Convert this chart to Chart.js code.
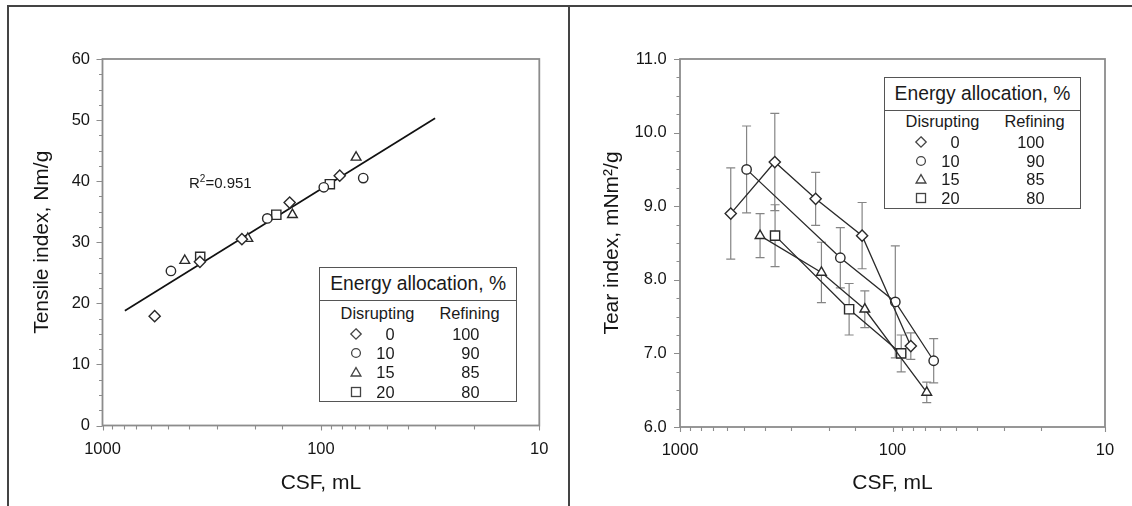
<!DOCTYPE html>
<html>
<head>
<meta charset="utf-8">
<script src="https://cdn.jsdelivr.net/npm/chart.js@4.4.1/dist/chart.umd.min.js"></script>
<style>
  html, body { margin: 0; padding: 0; background: #fff; }
  #page { position: relative; width: 1132px; height: 506px; overflow: hidden;
          font-family: "Liberation Sans", Arial, sans-serif; color: #1a1a1a; }
  canvas { position: absolute; top: 0; }
  .rule { position: absolute; background: #444; z-index: 3; }
  .legend { position: absolute; box-sizing: border-box; border: 1.5px solid #555; background: #fff; z-index: 2; }
  .legend .title { position: absolute; left: 0; right: 0; top: 0; height: 32px; line-height: 32px;
                   border-bottom: 1.5px solid #555; font-size: 19.3px; text-align: center; }
  .legend .cell { position: absolute; height: 20px; line-height: 20px; font-size: 16.4px; white-space: nowrap; }
  .legend svg { position: absolute; }
  .r2 { position: absolute; font-size: 15px; line-height: 18px; white-space: nowrap; z-index: 2; }
  .r2 sup { font-size: 10px; vertical-align: 6px; line-height: 0; }
</style>
</head>
<body>
<div id="page">
  <canvas id="tensile" width="566" height="506" style="left:0"></canvas>
  <canvas id="tear" width="566" height="506" style="left:566px"></canvas>
  <div class="rule" style="left:7px; top:5px; width:1125px; height:2px"></div>
  <div class="rule" style="left:7px; top:5px; width:2px; height:501px"></div>
  <div class="rule" style="left:568px; top:5px; width:2px; height:501px"></div>
</div>
<script>
// CSF (mL) of each sample, per energy allocation (disrupting share, %)
const csf0 = [577, 358, 230, 139, 82];
const csf10 = [486, 176, 97, 64];
const csf15 = [420, 216, 135, 69];
const csf20 = [357, 160, 91];

// tensile index, Nm/g
const tensile0 = [17.9, 26.8, 30.5, 36.5, 40.9];
const tensile10 = [25.3, 33.9, 39.0, 40.5];
const tensile15 = [27.0, 30.6, 34.5, 43.9];
const tensile20 = [27.6, 34.5, 39.5];

// fitted line ends and its R²
const fitCsf = [790, 30];
const fitTensile = [18.8, 50.3];
const r2Value = '0.951';

// tear index, mNm²/g, with error bar half-lengths
const tear0 = [8.9, 9.6, 9.1, 8.6, 7.1];
const tear10 = [9.5, 8.3, 7.7, 6.9];
const tear15 = [8.6, 8.1, 7.6, 6.47];
const tear20 = [8.6, 7.6, 7.0];
const tearErr0 = [0.62, 0.66, 0.36, 0.45, 0.18];
const tearErr10 = [0.59, 0.41, 0.76, 0.30];
const tearErr15 = [0.30, 0.41, 0.25, 0.14];
const tearErr20 = [0.42, 0.35, 0.25];

// legend
const disrupting = [0, 10, 15, 20];
const refining = [100, 90, 85, 80];

const FONT = '"Liberation Sans", Arial, sans-serif';
const INK = '#151515';
const pointStyles = ['rectRot', 'circle', 'triangle', 'rect'];
const pointSizes = [5.6, 4.7, 5.6, 6.5];

function pts(xs, ys) {
  return xs.map((x, i) => ({ x: x, y: ys[i] }));
}

function markerSet(k, xs, ys, extra) {
  return Object.assign({
    data: pts(xs, ys),
    pointStyle: pointStyles[k],
    pointRadius: pointSizes[k],
    pointBorderColor: '#2a2a2a',
    pointBackgroundColor: '#fff',
    pointBorderWidth: 1.4,
    borderColor: '#2a2a2a',
    borderWidth: 1.3,
    showLine: false,
    order: 1
  }, extra || {});
}

// plot box + outward tick marks, drawn from the chart's own scales
const boxAndTicks = {
  id: 'boxAndTicks',
  beforeDatasetsDraw(chart) {
    const { ctx, chartArea: a, scales: { x, y } } = chart;
    ctx.save();
    ctx.strokeStyle = '#8c8c8c';
    ctx.lineWidth = 1.8;
    ctx.strokeRect(a.left, a.top, a.right - a.left, a.bottom - a.top);
    ctx.lineWidth = 1.1;
    ctx.beginPath();
    x.ticks.forEach(t => {
      const px = Math.round(x.getPixelForValue(t.value)) + 0.5;
      ctx.moveTo(px, a.bottom);
      ctx.lineTo(px, a.bottom + (t.label ? 5 : 4));
    });
    y.ticks.forEach(t => {
      const py = Math.round(y.getPixelForValue(t.value)) + 0.5;
      ctx.moveTo(a.left, py);
      ctx.lineTo(a.left - (t.label ? 6 : 3.5), py);
    });
    ctx.stroke();
    ctx.restore();
  }
};

const errorBars = {
  id: 'errorBars',
  beforeDatasetsDraw(chart) {
    const { ctx, scales: { x, y } } = chart;
    ctx.save();
    ctx.strokeStyle = '#858585';
    ctx.lineWidth = 1.2;
    chart.data.datasets.forEach(ds => {
      if (!ds.errors) return;
      ds.data.forEach((p, i) => {
        const e = ds.errors[i];
        const px = x.getPixelForValue(p.x);
        const top = y.getPixelForValue(p.y + e);
        const bot = y.getPixelForValue(p.y - e);
        ctx.beginPath();
        ctx.moveTo(px, top); ctx.lineTo(px, bot);
        ctx.moveTo(px - 4.5, top); ctx.lineTo(px + 4.5, top);
        ctx.moveTo(px - 4.5, bot); ctx.lineTo(px + 4.5, bot);
        ctx.stroke();
      });
    });
    ctx.restore();
  }
};

function csfAxis(height) {
  return {
    type: 'logarithmic', min: 10, max: 1000, reverse: true,
    grid: { display: false, drawTicks: false },
    border: { display: false },
    ticks: {
      autoSkip: false, maxRotation: 0, padding: 14, color: INK,
      font: { family: FONT, size: 16.5 },
      callback: v => Math.abs(Math.log10(v) - Math.round(Math.log10(v))) < 1e-9 ? String(Math.round(v)) : ''
    },
    title: { display: true, text: 'CSF, mL', color: INK, font: { family: FONT, size: 21 }, padding: { top: 0, bottom: 10.5 } },
    afterFit: s => { s.height = height; }
  };
}

function valueAxis(opts) {
  return {
    type: 'linear', min: opts.min, max: opts.max,
    grid: { display: false, drawTicks: false },
    border: { display: false },
    ticks: {
      stepSize: opts.step, maxTicksLimit: 100, autoSkip: false, padding: opts.pad, color: INK,
      font: { family: FONT, size: 16.5 },
      callback: opts.label
    },
    title: { display: true, text: opts.title, color: INK, font: { family: FONT, size: 21 }, padding: { top: opts.titlePad, bottom: 0 } },
    afterFit: s => { s.width = opts.width; }
  };
}

function baseOptions(rightPad, xAxis, yAxis) {
  return {
    responsive: false, animation: false, devicePixelRatio: 1,
    layout: { padding: { left: 0, right: rightPad, top: 59, bottom: 0 } },
    plugins: { legend: { display: false }, tooltip: { enabled: false } },
    scales: { x: xAxis, y: yAxis }
  };
}

new Chart(document.getElementById('tensile'), {
  type: 'scatter',
  data: {
    datasets: [
      { data: pts(fitCsf, fitTensile), showLine: true, borderColor: '#111', borderWidth: 1.7, pointRadius: 0, order: 5 },
      markerSet(0, csf0, tensile0),
      markerSet(1, csf10, tensile10),
      markerSet(2, csf15, tensile15),
      markerSet(3, csf20, tensile20)
    ]
  },
  options: baseOptions(26.7, csfAxis(80.5), valueAxis({
    min: 0, max: 60, step: 2.5, pad: 12.5, width: 102.5, titlePad: 30,
    title: 'Tensile index, Nm/g',
    label: v => v % 10 === 0 ? String(v) : ''
  })),
  plugins: [boxAndTicks]
});

new Chart(document.getElementById('tear'), {
  type: 'scatter',
  data: {
    datasets: [
      markerSet(0, csf0, tear0, { showLine: true, errors: tearErr0 }),
      markerSet(1, csf10, tear10, { showLine: true, errors: tearErr10 }),
      markerSet(2, csf15, tear15, { showLine: true, errors: tearErr15 }),
      markerSet(3, csf20, tear20, { showLine: true, errors: tearErr20 })
    ]
  },
  options: baseOptions(27, csfAxis(79), valueAxis({
    min: 6, max: 11, step: 0.25, pad: 13.3, width: 114, titlePad: 33.5,
    title: 'Tear index, mNm²/g',
    label: v => Math.abs(v - Math.round(v)) < 1e-6 ? v.toFixed(1) : ''
  })),
  plugins: [boxAndTicks, errorBars]
});

// legend boxes (HTML text)
function symbolSvg(k) {
  const st = 'fill="#fff" stroke="#444" stroke-width="1.3"';
  const shapes = [
    '<polygon points="7,1.8 12.2,7 7,12.2 1.8,7" ' + st + '/>',
    '<circle cx="7" cy="7" r="4.4" ' + st + '/>',
    '<polygon points="7,2.6 11.9,11 2.1,11" ' + st + '/>',
    '<rect x="2.5" y="2.5" width="9" height="9" ' + st + '/>'
  ];
  return '<svg width="14" height="14" viewBox="0 0 14 14">' + shapes[k] + '</svg>';
}

function buildLegend(box) {
  const B = 1.5;
  const el = document.createElement('div');
  el.className = 'legend';
  el.style.left = box.left + 'px';
  el.style.top = box.top + 'px';
  el.style.width = box.width + 'px';
  el.style.height = box.height + 'px';
  let html = '<div class="title">Energy allocation, %</div>';
  const cell = (cx, cy, text, align) => {
    const w = 120;
    const left = align === 'right' ? cx - w : cx - w / 2;
    return '<div class="cell" style="left:' + (left - B) + 'px; top:' + (cy - 10 - B) + 'px; width:' + w + 'px; text-align:' + align + '">' + text + '</div>';
  };
  html += cell(59, box.rowStart - 21, 'Disrupting', 'center');
  html += cell(151, box.rowStart - 21, 'Refining', 'center');
  disrupting.forEach((d, i) => {
    const cy = box.rowStart + i * box.rowStep;
    html += '<div style="position:absolute; left:' + (37.7 - 7 - B) + 'px; top:' + (cy - 7 - B) + 'px">' + symbolSvg(i) + '</div>';
    html += cell(76, cy, String(d), 'right');
    html += cell(161, cy, String(refining[i]), 'right');
  });
  el.innerHTML = html;
  document.getElementById('page').appendChild(el);
}

buildLegend({ left: 319, top: 266.7, width: 198.3, height: 135, rowStart: 67.6, rowStep: 19.33 });
buildLegend({ left: 884, top: 77, width: 197, height: 132.3, rowStart: 65.2, rowStep: 18.83 });

const r2 = document.createElement('div');
r2.className = 'r2';
r2.style.left = '189px';
r2.style.top = (182.7 - 9) + 'px';
r2.innerHTML = 'R<sup>2</sup>=' + r2Value;
document.getElementById('page').appendChild(r2);
</script>
</body>
</html>
